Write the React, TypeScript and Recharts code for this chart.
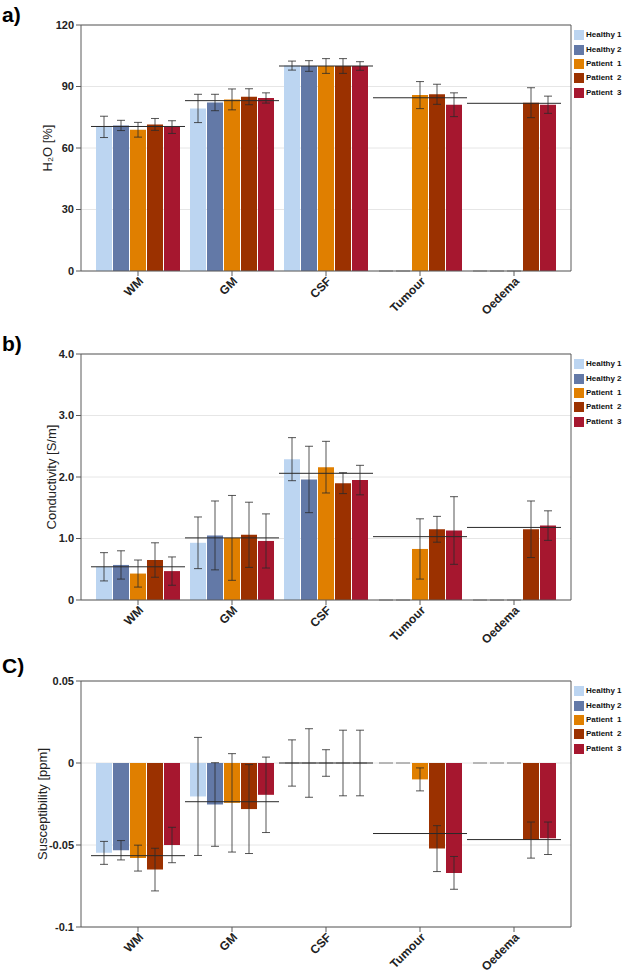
import React from 'react';
import { ComposedChart, Bar, XAxis, YAxis, CartesianGrid, ErrorBar, Scatter, Legend, Rectangle } from 'recharts';

const categories = ['WM', 'GM', 'CSF', 'Tumour', 'Oedema'];
const seriesNames = ['Healthy 1', 'Healthy 2', 'Patient  1', 'Patient  2', 'Patient  3'];
const seriesColors = ['#bcd5f1', '#6379a7', '#e07f00', '#9b3100', '#a6172f'];

// a) water content [%]  (0 = no measurement, drawn as an empty bar)
const waterH1 = [70.3, 79.3, 100.2, 0, 0];
const waterH2 = [71.0, 82.2, 100.0, 0, 0];
const waterP1 = [68.9, 83.7, 100.0, 85.8, 0];
const waterP2 = [71.5, 85.0, 100.0, 86.2, 82.1];
const waterP3 = [70.2, 84.4, 100.0, 81.1, 81.1];
const waterH1Err = [5.2, 6.9, 2.2, null, null];
const waterH2Err = [2.5, 4.0, 2.6, null, null];
const waterP1Err = [3.6, 5.1, 3.6, 6.6, null];
const waterP2Err = [2.9, 3.9, 3.6, 4.9, 7.3];
const waterP3Err = [3.1, 2.5, 2.1, 5.8, 4.2];
const waterMean = [70.5, 83.1, 100.0, 84.5, 81.8];
const waterTicks = [0, 30, 60, 90, 120];
const waterTickLabels = ['0', '30', '60', '90', '120'];

// b) conductivity [S/m]
const condH1 = [0.54, 0.93, 2.29, 0, 0];
const condH2 = [0.57, 1.05, 1.96, 0, 0];
const condP1 = [0.43, 1.01, 2.16, 0.83, 0];
const condP2 = [0.65, 1.06, 1.9, 1.15, 1.15];
const condP3 = [0.47, 0.96, 1.95, 1.13, 1.21];
const condH1Err = [0.23, 0.42, 0.35, null, null];
const condH2Err = [0.23, 0.56, 0.54, null, null];
const condP1Err = [0.22, 0.69, 0.42, 0.49, null];
const condP2Err = [0.28, 0.53, 0.17, 0.21, 0.46];
const condP3Err = [0.23, 0.44, 0.24, 0.55, 0.24];
const condMean = [0.54, 1.01, 2.06, 1.03, 1.18];
const condTicks = [0, 1, 2, 3, 4];
const condTickLabels = ['0', '1.0', '2.0', '3.0', '4.0'];

// c) susceptibility [ppm]
const suscH1 = [-0.0548, -0.0204, 0, 0, 0];
const suscH2 = [-0.0532, -0.0253, 0, 0, 0];
const suscP1 = [-0.058, -0.0243, 0, -0.01, 0];
const suscP2 = [-0.065, -0.0281, 0, -0.0522, -0.047];
const suscP3 = [-0.05, -0.0194, 0, -0.067, -0.0459];
const suscH1Err = [0.007, 0.036, 0.0141, null, null];
const suscH2Err = [0.0059, 0.0255, 0.0209, null, null];
const suscP1Err = [0.0079, 0.03, 0.0081, 0.007, null];
const suscP2Err = [0.013, 0.0271, 0.02, 0.014, 0.011];
const suscP3Err = [0.0108, 0.023, 0.02, 0.01, 0.0099];
const suscMean = [-0.0565, -0.0236, 0, -0.043, -0.0467];
const suscTicks = [-0.1, -0.05, 0, 0.05];
const suscTickLabels = ['-0.1', '-0.05', '0', '0.05'];

const FONT = "'Liberation Sans', Arial, Helvetica, sans-serif";
const AXIS = '#5a5a5a';

function buildRows(values: number[][], errors: (number | null)[][], mean: number[]) {
  return categories.map((cat, i) => {
    const row: Record<string, any> = { cat, mean: mean[i] };
    values.forEach((v, s) => {
      row['s' + s] = v[i];
      row['e' + s] = errors[s][i];
    });
    return row;
  });
}

const MeanLine = (props: any) => {
  const { cx, cy } = props;
  if (cx == null || cy == null) return null;
  return <line x1={cx - 47} x2={cx + 47} y1={cy} y2={cy} stroke="#2a2a2a" strokeWidth={1} />;
};

const BarShape = (props: any) => {
  const { x, y, width, height, fill } = props;
  if (x == null || y == null) return null;
  if (Math.abs(height || 0) < 0.5) {
    return <line x1={x + 1} x2={x + width - 1} y1={y} y2={y} stroke="#7a7a7a" strokeWidth={1} />;
  }
  return <Rectangle x={x} y={y} width={width} height={height} fill={fill} />;
};

const renderLegend = () => (
  <div style={{ width: 51, fontFamily: FONT }}>
    {seriesNames.map((n, i) => (
      <div key={n} style={{ display: 'flex', alignItems: 'center', height: 14.4 }}>
        <span style={{ display: 'inline-block', width: 10, height: 10, background: seriesColors[i], marginRight: 2 }} />
        <span style={{ fontSize: 8, fontWeight: 'bold', color: '#111', whiteSpace: 'pre', lineHeight: '10px' }}>{n}</span>
      </div>
    ))}
  </div>
);

type PanelProps = {
  rows: any[];
  domain: [number, number];
  ticks: number[];
  tickLabels: string[];
  yLabel: string;
  labelDx: number;
  top: number;
};

const Panel = ({ rows, domain, ticks, tickLabels, yLabel, labelDx, top }: PanelProps) => (
  <div style={{ position: 'absolute', left: 0, top }}>
    <ComposedChart
      width={625}
      height={318}
      data={rows}
      margin={{ top: 24, right: 0, bottom: 0, left: 40 }}
      barCategoryGap={5}
      barGap={1}
    >
      <CartesianGrid vertical={false} stroke="#e6e6e6" />
      <XAxis
        dataKey="cat"
        interval={0}
        height={47}
        padding={{ left: 10, right: 10 }}
        tickSize={5}
        tickMargin={3}
        axisLine={{ stroke: AXIS }}
        tickLine={{ stroke: AXIS }}
        tick={{ angle: -45, textAnchor: 'end', fontSize: 12, fontWeight: 'bold', fill: '#222', fontFamily: FONT, dx: 0, dy: -3 }}
      />
      <XAxis
        xAxisId="top"
        dataKey="cat"
        orientation="top"
        interval={0}
        height={1}
        padding={{ left: 10, right: 10 }}
        tickSize={5}
        tick={false}
        axisLine={{ stroke: AXIS }}
        tickLine={{ stroke: AXIS }}
      />
      <YAxis
        domain={domain}
        ticks={ticks}
        interval={0}
        width={41}
        tickSize={5}
        tickMargin={2}
        axisLine={{ stroke: AXIS }}
        tickLine={{ stroke: AXIS }}
        tickFormatter={(v: number) => tickLabels[ticks.indexOf(v)] ?? String(v)}
        tick={{ fontSize: 11, fontWeight: 'bold', fill: '#222', fontFamily: FONT }}
        label={{ value: yLabel, angle: -90, position: 'center', dx: labelDx, style: { fontSize: 13, fill: '#222', fontFamily: FONT } }}
      />
      <YAxis
        yAxisId="right"
        orientation="right"
        domain={domain}
        ticks={ticks}
        interval={0}
        width={3}
        tickSize={5}
        tick={false}
        axisLine={{ stroke: AXIS }}
        tickLine={{ stroke: AXIS }}
      />
      <Legend
        layout="vertical"
        align="right"
        verticalAlign="top"
        width={51}
        wrapperStyle={{ top: 28, right: 0 }}
        content={renderLegend}
      />
      {seriesNames.map((n, i) => (
        <Bar key={n} dataKey={'s' + i} name={n} fill={seriesColors[i]} shape={BarShape} isAnimationActive={false}>
          <ErrorBar dataKey={'e' + i} width={4} stroke="#2a2a2a" strokeOpacity={0.8} strokeWidth={1} />
        </Bar>
      ))}
      <Scatter dataKey="mean" shape={MeanLine} isAnimationActive={false} legendType="none" />
    </ComposedChart>
  </div>
);

const PanelLabel = ({ text, top }: { text: string; top: number }) => (
  <div style={{ position: 'absolute', left: 2, top, fontFamily: FONT, fontWeight: 'bold', fontSize: 21, lineHeight: '21px', color: '#000' }}>
    {text}
  </div>
);

export default function App() {
  const waterRows = buildRows(
    [waterH1, waterH2, waterP1, waterP2, waterP3],
    [waterH1Err, waterH2Err, waterP1Err, waterP2Err, waterP3Err],
    waterMean
  );
  const condRows = buildRows(
    [condH1, condH2, condP1, condP2, condP3],
    [condH1Err, condH2Err, condP1Err, condP2Err, condP3Err],
    condMean
  );
  const suscRows = buildRows(
    [suscH1, suscH2, suscP1, suscP2, suscP3],
    [suscH1Err, suscH2Err, suscP1Err, suscP2Err, suscP3Err],
    suscMean
  );
  return (
    <div style={{ position: 'absolute', left: 0, top: 0, width: 625, height: 974, background: '#fff', overflow: 'hidden' }}>
      <Panel rows={waterRows} domain={[0, 120]} ticks={waterTicks} tickLabels={waterTickLabels} yLabel="H₂O [%]" labelDx={-13.5} top={0} />
      <Panel rows={condRows} domain={[0, 4]} ticks={condTicks} tickLabels={condTickLabels} yLabel="Conductivity [S/m]" labelDx={-9} top={329} />
      <Panel rows={suscRows} domain={[-0.1, 0.05]} ticks={suscTicks} tickLabels={suscTickLabels} yLabel="Susceptibility [ppm]" labelDx={-18.5} top={656} />
      <PanelLabel text="a)" top={4} />
      <PanelLabel text="b)" top={333} />
      <PanelLabel text="C)" top={655} />
    </div>
  );
}
